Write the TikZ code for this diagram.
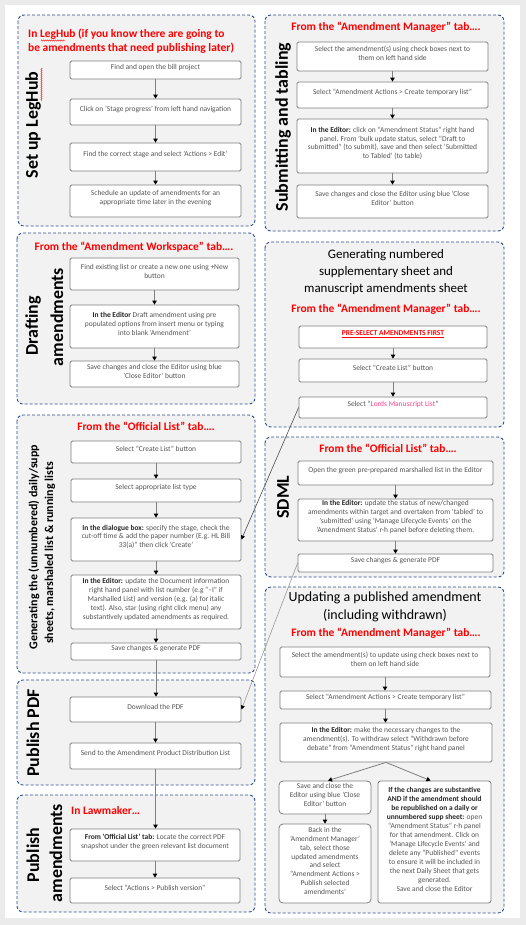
\documentclass[tikz,border=0pt]{standalone}
\usepackage{fontspec}
\setmainfont{Carlito}
\usetikzlibrary{arrows.meta,fit,decorations.pathmorphing}
\definecolor{pborder}{HTML}{2F4F8F}
\definecolor{pfill}{HTML}{F2F2F2}
\definecolor{bborder}{HTML}{7F7F7F}
\definecolor{btext}{HTML}{555555}
\definecolor{bdark}{HTML}{262626}
\definecolor{ttl}{HTML}{FF0000}
\definecolor{pinkish}{HTML}{FF4088}
\definecolor{pagebg}{HTML}{EBEBEB}
\newcommand\kb[1]{\textbf{\color{bdark}#1}}
\newcommand\bx[6]{\node[box,fit={(#2,#3) (#4,#5)}] (#1) {#6};}
\begin{document}
\begin{tikzpicture}[x=1bp,y=-1bp,
  panel/.style={draw=pborder, fill=pfill, rounded corners=6bp, dash pattern=on 3bp off 2bp, line width=0.9bp},
  box/.style={draw=bborder, fill=white, rounded corners=1.5bp, line width=0.8bp, inner sep=0pt, align=center, font=\fontsize{7.5}{9}\selectfont, text=btext},
  rbox/.style={box, rounded corners=4bp},
  redttl/.style={inner sep=0pt, text=ttl, font=\fontsize{11.5}{14}\selectfont\bfseries},
  blackttl/.style={inner sep=0pt, text=black, align=center, font=\fontsize{14}{18}\selectfont},
  vlab/.style={inner sep=0pt, rotate=90, text=black, font=\fontsize{18}{20}\selectfont\bfseries},
  vlabs/.style={inner sep=0pt, rotate=90, text=black, font=\fontsize{12}{14}\selectfont\bfseries},
  arr/.style={draw=bborder, line width=0.8bp, -{Triangle[length=4bp,width=4.5bp,color=black]}},
  crossa/.style={draw=black!70, line width=0.6bp, -{Triangle[length=4bp,width=4bp,color=black]}},
  crossb/.style={draw=black!40, line width=0.6bp, -{Triangle[length=4bp,width=4bp,color=black]}},
  squig/.style={draw=red, line width=0.4bp, decorate, decoration={snake, amplitude=0.6bp, segment length=2bp}}
]
\useasboundingbox (0,0) rectangle (526,925);
\fill[pagebg] (0,0) rectangle (526,925);
\fill[white] (5,5) rectangle (520,918);

% panels
\draw[panel] (18,15) rectangle (255,226);
\draw[panel] (17,233) rectangle (255,404);
\draw[panel] (17,415) rectangle (255,673);
\draw[panel] (17,680) rectangle (255,785);
\draw[panel] (17,795) rectangle (255,912);
\draw[panel] (265,15) rectangle (504,231);
\draw[panel] (265,242) rectangle (504,427);
\draw[panel] (265,437) rectangle (504,577);
\draw[panel] (265,587) rectangle (504,913);

% ---------- Set up LegHub
\node[redttl, anchor=west, align=left] (t1) at (28,41) {In LegHub (if you know there are going to\\be amendments that need publishing later)};
\node[vlab] (v1) at (33,125) {Set up LegHub};
\bx{b11}{70}{61}{241}{79}{Find and open the bill project}
\bx{b12}{70}{99}{241}{125}{Click on 'Stage progress' from  left hand navigation}
\bx{b13}{70}{143}{241}{171}{Find the correct stage  and select 'Actions > Edit'}
\bx{b14}{70}{185}{241}{217}{Schedule an update of amendments for an\\appropriate time later in the evening}
\draw[arr] (b11.south) -- (b11.south |- b12.north);
\draw[arr] (b12.south) -- (b12.south |- b13.north);
\draw[arr] (b13.south) -- (b13.south |- b14.north);

% ---------- Drafting amendments
\node[redttl] (t2) at (134,247) {From the “Amendment Workspace” tab….};
\node[vlab] (v2a) at (33,326) {Drafting};
\node[vlab] (v2b) at (57,317) {amendments};
\bx{b21}{70}{258}{239}{290}{Find existing list or create a new one using +New\\button}
\bx{b22}{70}{305}{239}{348}{\kb{In the Editor}  Draft amendment using pre\\populated options from insert menu or typing\\into blank 'Amendment'}
\bx{b23}{70}{361}{239}{387}{Save changes  and close the Editor using blue\\'Close Editor' button}
\draw[arr] (b21.south) -- (b21.south |- b22.north);
\draw[arr] (b22.south) -- (b22.south |- b23.north);

% ---------- Generating unnumbered
\node[redttl] (t3) at (146,426) {From the “Official List” tab….};
\node[vlabs] (v3a) at (34,547) {Generating the (unnumbered) daily/supp};
\node[vlabs] (v3b) at (50,553) {sheets, marshaled list \& running lists};
\bx{b31}{71}{441}{241}{463}{Select “Create List” button}
\bx{b32}{71}{479}{241}{502}{Select appropriate list type}
\bx{b33}{71}{518}{241}{561}{\kb{In the dialogue box:} specify the stage, check the\\cut-off time \& add the paper number (E.g. HL Bill\\33(a)” then click 'Create'}
\bx{b34}{71}{575}{241}{629}{\kb{In the Editor:} update the Document information\\right hand panel with list number (e.g “–I” if\\Marshalled List) and version (e.g. (a) for italic\\text). Also, star (using right click menu) any\\substantively updated amendments as required.}
\bx{b35}{71}{643}{241}{660}{Save changes \& generate PDF}
\draw[arr] (b31.south) -- (b31.south |- b32.north);
\draw[arr] (b32.south) -- (b32.south |- b33.north);
\draw[arr] (b33.south) -- (b33.south |- b34.north);
\draw[arr] (b34.south) -- (b34.south |- b35.north);

% ---------- Publish PDF
\node[vlab] (v4) at (33,733) {Publish PDF};
\bx{b41}{70}{697}{241}{722}{Download the PDF}
\bx{b42}{70}{743}{241}{769}{Send to the Amendment Product Distribution List}
\draw[arr] (b41.south) -- (b41.south |- b42.north);

% ---------- Publish amendments
\node[redttl, anchor=west] (t5) at (71,811) {In Lawmaker…};
\node[vlab] (v5a) at (33,855) {Publish};
\node[vlab] (v5b) at (56,853) {amendments};
\bx{b51}{70}{829}{240}{861}{\kb{From 'Official List' tab:} Locate the correct PDF\\snapshot under the green relevant list document}
\bx{b52}{70}{878}{240}{903}{Select “Actions > Publish version”}
\draw[arr] (b51.south) -- (b51.south |- b52.north);

% ---------- Submitting and tabling
\node[redttl] (t6) at (386,27) {From the “Amendment Manager” tab….};
\node[vlab] (v6) at (283,127) {Submitting and tabling};
\bx{b61}{297}{42}{488}{71}{Select the amendment(s) using check boxes next to\\them on left hand side}
\bx{b62}{297}{82}{488}{108}{Select “Amendment Actions > Create temporary list”}
\bx{b63}{297}{119}{488}{173}{\kb{In the Editor:} click on “Amendment Status” right  hand\\panel. From 'bulk update status, select “Draft to\\submitted” (to submit), save and then select 'Submitted\\to Tabled' (to table)}
\bx{b64}{297}{185}{488}{218}{Save changes and close the Editor using blue 'Close\\Editor' button}
\draw[arr] (b61.south) -- (b61.south |- b62.north);
\draw[arr] (b62.south) -- (b62.south |- b63.north);
\draw[arr] (b63.south) -- (b63.south |- b64.north);

% ---------- Generating numbered
\node[blackttl, font=\fontsize{13}{17.5}\selectfont] (t7a) at (386,272) {Generating numbered\\supplementary sheet and\\manuscript amendments sheet};
\node[redttl] (t7) at (386,309) {From the “Amendment Manager” tab….};
\bx{b71}{299}{326}{487}{348}{\textcolor{ttl}{\bfseries\underline{PRE-SELECT AMENDMENTS FIRST}}}
\bx{b72}{299}{359}{487}{382}{Select “Create List” button}
\bx{b73}{299}{397}{487}{418}{Select “\textcolor{pinkish}{Lords Manuscript List}”}
\draw[arr] (b71.south) -- (b71.south |- b72.north);
\draw[arr] (b72.south) -- (b72.south |- b73.north);

% ---------- SDML
\node[redttl] (t8) at (388,448) {From the “Official List” tab….};
\node[vlab] (v8) at (283,497) {SDML};
\bx{b81}{298}{461}{493}{485}{Open the green pre-prepared marshalled list in the Editor}
\bx{b82}{298}{499}{493}{541}{\kb{In the Editor:} update the status of new/changed\\amendments within target and overtaken from 'tabled' to\\'submitted' using 'Manage Lifecycle Events' on the\\'Amendment Status' r-h panel before deleting them.}
\bx{b83}{298}{554}{493}{572}{Save changes \& generate PDF}
\draw[arr] (b81.south) -- (b81.south |- b82.north);
\draw[arr] (b82.south) -- (b82.south |- b83.north);

% ---------- Updating a published amendment
\node[blackttl] (t9a) at (385,607) {Updating a published amendment\\(including withdrawn)};
\node[redttl] (t9) at (386,633) {From the “Amendment Manager” tab….};
\bx{b91}{280}{647}{490}{677}{Select the amendment(s) to update using check boxes next to\\them on left hand side}
\bx{b92}{280}{691}{491}{709}{Select “Amendment Actions > Create temporary list”}
\bx{b93}{280}{723}{492}{762}{\kb{In the Editor:} make the necessary changes to the\\amendment(s).  To withdraw select “Withdrawn before\\debate” from “Amendment Status” right hand panel}
\node[rbox,fit={(279,781) (371,814)}] (b94) {Save and close the\\Editor using blue 'Close\\Editor' button};
\node[rbox,fit={(279,824) (371,903)}] (b95) {Back in the\\'Amendment Manager'\\tab, select those\\updated amendments\\and select\\“Amendment Actions >\\Publish selected\\amendments'};
\node[box,rounded corners=2.5bp,fit={(378,781) (491,903)}] (b96) {\kb{If the changes are substantive}\\\kb{AND if the amendment should}\\\kb{be republished on a daily or}\\\kb{unnumbered supp sheet:} open\\“Amendment Status” r-h panel\\for that amendment.  Click on\\'Manage Lifecycle Events' and\\delete any “Published” events\\to ensure it will be included in\\the next Daily Sheet that gets\\generated.\\Save and close the Editor};
\draw[arr] (b91.south) -- (b91.south |- b92.north);
\draw[arr] (b92.south) -- (b92.south |- b93.north);
\draw[arr] (b93.south) -- ([xshift=3bp]b94.north);
\draw[arr] (b93.south) -- ([xshift=-4bp]b96.north);
\draw[arr] (b94.south) -- (b94.south |- b95.north);

% ---------- cross connectors
\draw[crossa] (b73.west) -- (b33.east);
\draw[crossb] (b83.west) -- (b41.east);
\draw[arr] (b35.south) -- (b35.south |- b41.north);
\draw[arr] (b42.south) -- (b42.south |- b51.north);

% spell-check squiggles
\draw[squig] (41,40.5) -- (65,40.5);
\draw[squig] (41.5,68) -- (41.5,101);
\end{tikzpicture}
\end{document}
